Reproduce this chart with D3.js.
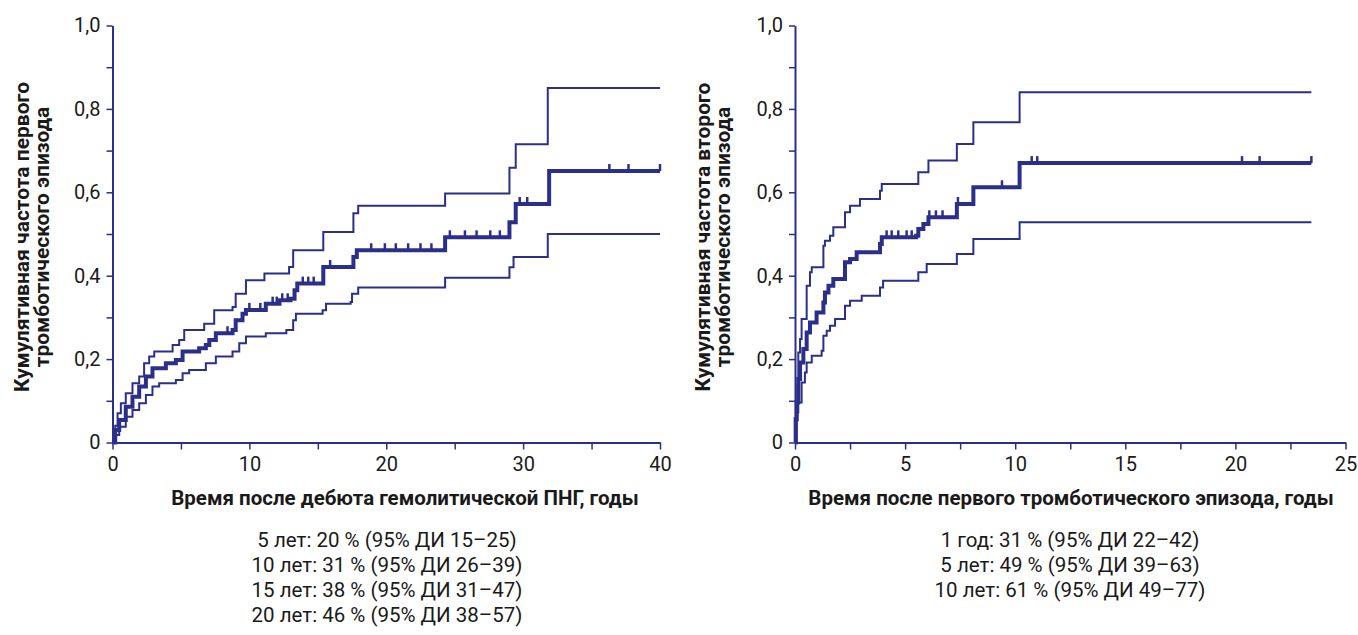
<!DOCTYPE html>
<html>
<head>
<meta charset="utf-8">
<script src="https://cdn.jsdelivr.net/npm/d3@7"></script>
<style>
  body { margin: 0; background: #fff; }
  text { font-family: Roboto, "Liberation Sans", sans-serif; fill: #1a1a1a; }
</style>
</head>
<body>
<svg width="1358" height="635"></svg>
<script>
// ---- data: [years, cumulative incidence] ----
var leftUpper = [[0,0],[0.2,0.04],[0.37,0.07],[0.61,0.094],[0.97,0.118],[1.46,0.142],[1.95,0.158],[2.31,0.19],[2.68,0.206],[3.05,0.218],[4.39,0.234],[4.87,0.246],[5.24,0.27],[6.7,0.285],[7.43,0.317],[8.77,0.325],[9.0,0.357],[9.75,0.389],[11.1,0.405],[12.9,0.421],[13.2,0.461],[15.4,0.505],[17.6,0.55],[17.95,0.568],[24.3,0.597],[29.0,0.659],[29.46,0.715],[31.8,0.85],[40,0.85]];
var leftMedian = [[0,0],[0.2,0.03],[0.49,0.054],[0.97,0.086],[1.46,0.11],[1.95,0.134],[2.44,0.158],[2.92,0.178],[3.9,0.19],[4.63,0.198],[5.12,0.218],[6.33,0.226],[6.82,0.234],[7.07,0.246],[7.55,0.262],[8.77,0.27],[9.0,0.293],[9.5,0.309],[9.75,0.318],[11.2,0.333],[12.2,0.341],[13.0,0.345],[13.3,0.365],[13.5,0.381],[15.4,0.421],[17.6,0.445],[17.85,0.461],[24.3,0.492],[29.0,0.528],[29.46,0.572],[31.9,0.651],[40,0.651]];
var leftLower = [[0,0],[0.2,0.018],[0.49,0.038],[0.97,0.062],[1.46,0.078],[1.95,0.094],[2.44,0.114],[2.92,0.134],[3.41,0.142],[4.63,0.15],[5.12,0.166],[5.6,0.174],[6.82,0.19],[7.55,0.206],[8.77,0.218],[9.26,0.238],[9.75,0.254],[11.2,0.262],[12.7,0.27],[13.2,0.293],[13.4,0.309],[15.35,0.317],[15.6,0.333],[17.4,0.337],[17.5,0.357],[17.95,0.372],[24.3,0.395],[29.0,0.42],[29.3,0.445],[31.8,0.5],[40,0.5]];
var leftCensor = [8.4, 10.0, 10.8, 11.7, 12.0, 12.4, 12.8, 13.9, 14.3, 14.7, 15.9, 18.9, 19.9, 20.7, 21.6, 22.5, 23.3, 24.65, 25.75, 26.6, 27.6, 28.3, 29.75, 30.3, 36.3, 37.7, 40];

var rightUpper = [[0,0],[0.05,0.096],[0.11,0.136],[0.15,0.216],[0.23,0.248],[0.3,0.296],[0.53,0.376],[0.68,0.408],[0.76,0.42],[1.29,0.472],[1.36,0.484],[1.59,0.496],[1.74,0.516],[2.27,0.552],[2.5,0.568],[2.95,0.584],[3.86,0.604],[3.94,0.62],[5.6,0.648],[6.06,0.676],[7.35,0.716],[8.1,0.768],[10.2,0.84],[23.45,0.84]];
var rightMedian = [[0,0],[0.03,0.056],[0.08,0.096],[0.15,0.152],[0.23,0.192],[0.38,0.224],[0.53,0.264],[0.68,0.288],[0.98,0.312],[1.29,0.336],[1.36,0.36],[1.52,0.376],[1.74,0.392],[2.27,0.432],[2.5,0.44],[2.8,0.456],[3.86,0.476],[3.94,0.492],[5.5,0.496],[5.6,0.512],[5.83,0.524],[6.06,0.54],[7.35,0.572],[8.1,0.612],[10.2,0.67],[23.45,0.67]];
var rightLower = [[0,0],[0.08,0.072],[0.15,0.096],[0.3,0.144],[0.45,0.168],[0.53,0.192],[0.76,0.208],[1.21,0.22],[1.29,0.256],[1.44,0.268],[1.59,0.28],[1.82,0.296],[2.27,0.328],[2.5,0.34],[3.03,0.352],[3.86,0.372],[4.0,0.388],[5.6,0.408],[5.98,0.428],[7.35,0.452],[8.1,0.488],[10.2,0.528],[23.45,0.528]];
var rightCensor = [4.16, 4.39, 4.69, 5.07, 5.3, 6.1, 6.4, 6.7, 7.4, 9.4, 10.75, 11.0, 20.3, 21.1, 23.45];

var yTicks = [0,0.1,0.2,0.3,0.4,0.5,0.6,0.7,0.8,0.9,1.0];
var yLabels = {0:"0", 0.2:"0,2", 0.4:"0,4", 0.6:"0,6", 0.8:"0,8", 1:"1,0"};
var leftXTicks = [0,5,10,15,20,25,30,35,40];
var leftXLabels = [0,10,20,30,40];
var rightXTicks = [0,2.5,5,7.5,10,12.5,15,17.5,20,22.5,25];
var rightXLabels = [0,5,10,15,20,25];

var leftYTitle = ["Кумулятивная частота первого", "тромботического эпизода"];
var rightYTitle = ["Кумулятивная частота второго", "тромботического эпизода"];
var leftXTitle = "Время после дебюта гемолитической ПНГ, годы";
var rightXTitle = "Время после первого тромботического эпизода, годы";
var leftStats = ["5 лет: 20 % (95% ДИ 15–25)", "10 лет: 31 % (95% ДИ 26–39)", "15 лет: 38 % (95% ДИ 31–47)", "20 лет: 46 % (95% ДИ 38–57)"];
var rightStats = ["1 год: 31 % (95% ДИ 22–42)", "5 лет: 49 % (95% ДИ 39–63)", "10 лет: 61 % (95% ДИ 49–77)"];

var navy = "#2b2f8a";
var svg = d3.select("svg");

function drawPanel(opt) {
  var x = d3.scaleLinear().domain([0, opt.xmax]).range([opt.x0, opt.x1]);
  var y = d3.scaleLinear().domain([0, 1]).range([442.5, 25.5]);
  var g = svg.append("g");

  // axes
  var ax = g.append("g").attr("transform", "translate(0," + y(0) + ")")
    .call(d3.axisBottom(x).tickValues(opt.xTicks).tickSize(7).tickSizeOuter(0)
      .tickFormat(function(d) { return opt.xLabels.indexOf(d) >= 0 ? d : ""; }));
  ax.select(".domain").attr("stroke", navy).attr("stroke-width", 2);
  ax.selectAll(".tick line").attr("stroke", navy).attr("stroke-width", 1.5);
  ax.selectAll(".tick text").attr("y", 12).attr("dy", "0.8em").style("font-size", "20px");

  var ay = g.append("g").attr("transform", "translate(" + x(0) + ",0)")
    .call(d3.axisLeft(y).tickValues(yTicks).tickSize(6).tickSizeOuter(0)
      .tickFormat(function(d) { var k = Math.round(d * 10) / 10; return yLabels[k] || ""; }));
  ay.select(".domain").attr("stroke", navy).attr("stroke-width", 2);
  ay.selectAll(".tick line").attr("stroke", navy).attr("stroke-width", 1.5);
  ay.selectAll(".tick text").attr("x", -12).style("font-size", "20px");

  var line = d3.line()
    .x(function(d) { return x(d[0]); })
    .y(function(d) { return y(d[1]); })
    .curve(d3.curveStepAfter);

  [[opt.upper, 2], [opt.lower, 2], [opt.median, 4]].forEach(function(s) {
    g.append("path").datum(s[0])
      .attr("fill", "none").attr("stroke", navy)
      .attr("stroke-width", s[1]).attr("d", line);
  });

  // censor marks on the estimate line
  function at(t) {
    var v = 0;
    opt.median.forEach(function(p) { if (p[0] <= t) v = p[1]; });
    return v;
  }
  g.selectAll(".cens").data(opt.censor).enter().append("line")
    .attr("x1", function(d) { return x(d); }).attr("x2", function(d) { return x(d); })
    .attr("y1", function(d) { return y(at(d)); })
    .attr("y2", function(d) { return y(at(d)) - 7; })
    .attr("stroke", navy).attr("stroke-width", 2.5);

  // titles
  opt.yTitle.forEach(function(t, i) {
    g.append("text")
      .attr("transform", "translate(" + (opt.ytx + i * 20) + ",237) rotate(-90)")
      .attr("text-anchor", "middle").attr("dy", "0.35em")
      .style("font-size", "21px").style("font-weight", "bold")
      .text(t);
  });
  g.append("text").attr("x", opt.xtx).attr("y", 505)
    .attr("text-anchor", "middle")
    .style("font-size", "20.5px").style("font-weight", "bold")
    .text(opt.xTitle);
  opt.stats.forEach(function(t, i) {
    g.append("text").attr("x", opt.stx).attr("y", 547 + i * 25)
      .attr("text-anchor", "middle").style("font-size", "20.5px")
      .text(t);
  });
}

drawPanel({xmax: 40, x0: 112.5, x1: 660, xTicks: leftXTicks, xLabels: leftXLabels,
  upper: leftUpper, median: leftMedian, lower: leftLower, censor: leftCensor,
  yTitle: leftYTitle, ytx: 22, xTitle: leftXTitle, xtx: 405, stats: leftStats, stx: 387});
drawPanel({xmax: 25, x0: 795, x1: 1345.5, xTicks: rightXTicks, xLabels: rightXLabels,
  upper: rightUpper, median: rightMedian, lower: rightLower, censor: rightCensor,
  yTitle: rightYTitle, ytx: 703, xTitle: rightXTitle, xtx: 1071, stats: rightStats, stx: 1070});
</script>
</body>
</html>
